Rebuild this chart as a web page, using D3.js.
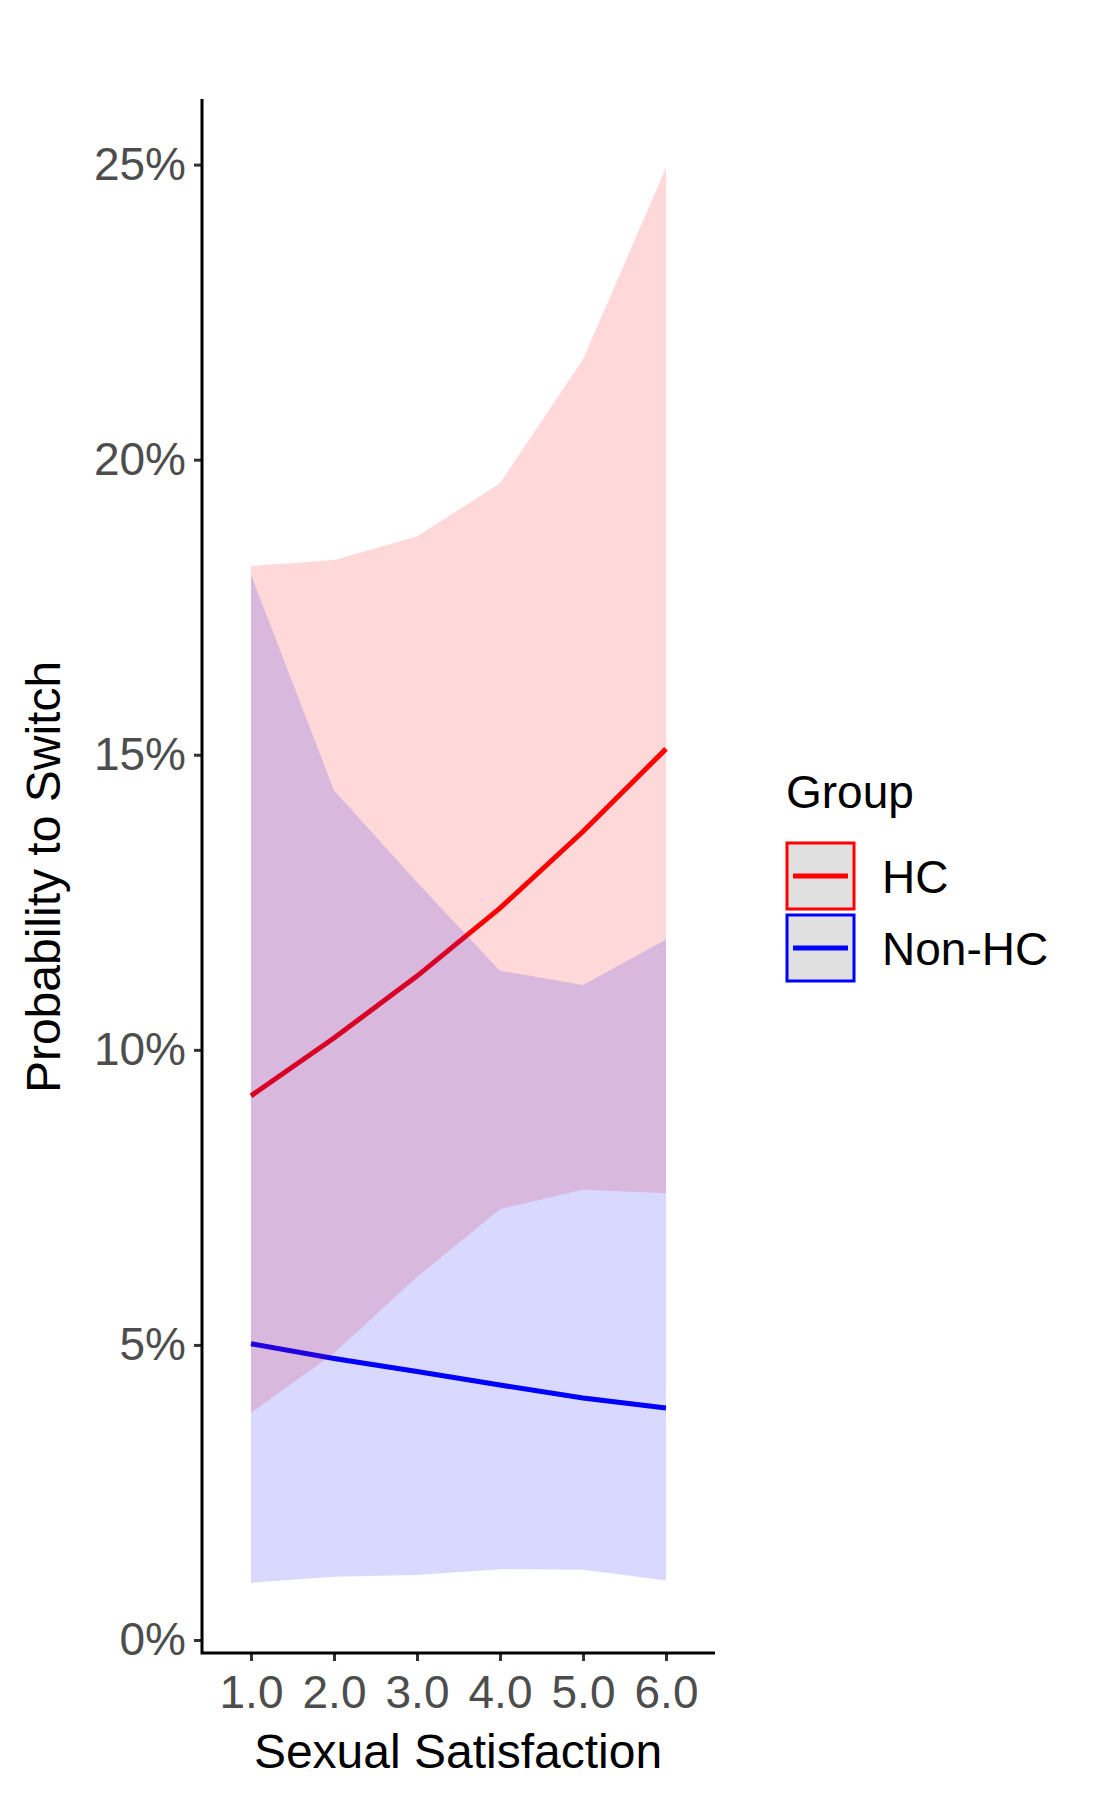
<!DOCTYPE html>
<html><head><meta charset="utf-8">
<script src="https://cdn.jsdelivr.net/npm/d3@7"></script>
<style>body{margin:0;background:#fff}text{font-family:"Liberation Sans",Arial,sans-serif}</style>
</head><body>
<script>
const xs = [1, 2, 3, 4, 5, 6];
const hcFit = [9.22, 10.2, 11.25, 12.4, 13.7, 15.1];
const hcLow = [3.85, 4.86, 6.15, 7.3, 7.63, 7.57];
const hcHigh = [18.2, 18.3, 18.7, 19.6, 21.7, 24.95];
const nonFit = [5.02, 4.77, 4.55, 4.32, 4.1, 3.93];
const nonLow = [0.97, 1.07, 1.1, 1.2, 1.19, 1.01];
const nonHigh = [18.05, 14.4, 12.84, 11.34, 11.1, 11.87];
const yTicks = [0, 5, 10, 15, 20, 25];
const groups = [
    {name: "HC", color: "#FF0000", fit: hcFit, low: hcLow, high: hcHigh},
    {name: "Non-HC", color: "#0000FF", fit: nonFit, low: nonLow, high: nonHigh}
];

const svg = d3.select("body").append("svg").attr("width", 1105).attr("height", 1800);
const x = d3.scaleLinear().domain([1, 6]).range([251, 666]);
const y = d3.scaleLinear().domain([0, 25]).range([1640, 164.6]);

const line = d3.line().x((d, i) => x(xs[i])).y(d => y(d));
const area = d3.area().x((d, i) => x(xs[i])).y0(d => y(d[0])).y1(d => y(d[1]));

groups.forEach(g => {
    svg.append("path").attr("d", line(g.fit)).attr("fill", "none")
        .attr("stroke", g.color).attr("stroke-width", 5);
});
groups.forEach(g => {
    svg.append("path").attr("d", area(g.low.map((v, i) => [v, g.high[i]])))
        .attr("fill", g.color).attr("fill-opacity", 0.15);
});

// axes
const yAxis = svg.append("g").attr("transform", "translate(202,0)")
    .call(d3.axisLeft(y).tickValues(yTicks).tickFormat(d => d + "%").tickSize(8).tickPadding(8));
const xAxis = svg.append("g").attr("transform", "translate(0,1653)")
    .call(d3.axisBottom(x).tickValues(xs).tickSize(8).tickPadding(8));
[yAxis, xAxis].forEach(a => {
    a.select(".domain").remove();
    a.selectAll(".tick line").attr("stroke", "#333").attr("stroke-width", 3);
    a.selectAll(".tick text").attr("fill", "#4D4D4D").style("font-size", "46px")
        .style("font-family", "Liberation Sans, Arial, sans-serif");
});
xAxis.selectAll(".tick text").attr("dy", "0.85em");
svg.append("path").attr("d", "M202,99V1653H715").attr("fill", "none")
    .attr("stroke", "#000").attr("stroke-width", 3);

svg.append("text").attr("x", 458).attr("y", 1768).attr("text-anchor", "middle")
    .style("font-size", "48px").text("Sexual Satisfaction");
svg.append("text").attr("transform", "translate(60,877) rotate(-90)").attr("text-anchor", "middle")
    .style("font-size", "48px").text("Probability to Switch");

// legend
const leg = svg.append("g");
leg.append("text").attr("x", 786).attr("y", 808).style("font-size", "46px").text("Group");
groups.forEach((g, i) => {
    const top = 843 + i * 72;
    leg.append("rect").attr("x", 787).attr("y", top).attr("width", 67).attr("height", 66)
        .attr("fill", "#E0E0E0").attr("stroke", g.color).attr("stroke-width", 3);
    leg.append("line").attr("x1", 793).attr("x2", 848).attr("y1", top + 33).attr("y2", top + 33)
        .attr("stroke", g.color).attr("stroke-width", 5);
    leg.append("text").attr("x", 882).attr("y", top + 33).attr("dy", "0.36em")
        .style("font-size", "46px").text(g.name);
});
</script>
</body></html>
